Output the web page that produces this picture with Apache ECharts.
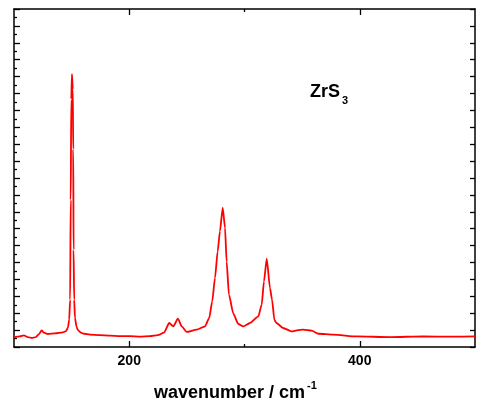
<!DOCTYPE html>
<html>
<head>
<meta charset="utf-8">
<script src="https://cdn.jsdelivr.net/npm/echarts@6/dist/echarts.min.js"></script>
<style>
html,body{margin:0;padding:0;background:#fff;}
#chart{width:480px;height:407px;}
</style>
</head>
<body>
<div id="chart"></div>
<script>
// Raman spectrum ZrS3
var wavenumber = [100,105,108.6,112,115.5,119,121.6,124,126,129.4,135.5,142.4,145.1,146.8,147.9,148.7,149.2,149.7,150.3,151.0,151.4,151.7,152.2,152.9,154.2,155.5,158.1,160.7,165.9,174.6,183.2,191.9,200.6,209.3,218.0,224.9,230.1,234.7,238.2,242.2,245.7,249.8,258.5,265.7,269.4,272.0,274.4,276.7,278.7,281.1,283.1,284.5,286.5,290.3,294.6,298.9,304.8,312.0,314.9,316.9,319.3,322.1,323.9,325.9,327.7,333.5,340.8,346.4,351.0,358.3,364.1,377.1,397.4,426.3,455.2,478.6,500];
var intensity = [1.14,1.25,1.37,1.18,1.07,1.18,1.51,1.96,1.69,1.54,1.61,1.73,1.87,2.28,3.23,5.6,17.4,29.3,32.3,30.5,23.4,11.5,5.6,3.47,2.4,1.99,1.69,1.57,1.46,1.40,1.34,1.28,1.28,1.22,1.28,1.40,1.69,2.84,2.44,3.35,2.40,1.78,2.05,2.44,3.43,5.40,8.17,11.3,13.7,16.5,14.1,10.1,6.19,3.94,2.72,2.44,2.84,3.62,5.0,7.76,10.47,6.98,5.6,3.23,2.84,2.25,1.85,1.99,2.05,1.93,1.57,1.46,1.25,1.18,1.25,1.22,1.25];
var majorTicks = [200,400];
var minorTicks = [300];
var sampleName = 'ZrS';
var sampleSub = '3';
var axisTitle = 'wavenumber / cm';
var axisTitleSup = '-1';

var points = [];
for(var i=0;i<wavenumber.length;i++){
    points.push([wavenumber[i],intensity[i]]);
}

var font = 'Liberation Sans, Arial, sans-serif';
var lineStyle = {color:'#000',width:1.5};

function xAx(pos,ticks,len,showLine,labels){
    return {
        type:'value', position:pos, min:100, max:500, interval:100,
        axisLine:{show:showLine,onZero:false,lineStyle:lineStyle},
        axisTick:{show:true,inside:true,length:len,customValues:ticks,lineStyle:{color:'#000',width:1.3}},
        axisLabel:labels ? {show:true,customValues:ticks,margin:7,color:'#000',fontSize:14,fontWeight:'bold',fontFamily:font} : {show:false},
        splitLine:{show:false}
    };
}

var myChart = echarts.init(document.getElementById('chart'));
var option = {
    animation:false,
    backgroundColor:'#fff',
    grid:{left:14,right:5,top:9,bottom:60,containLabel:false},
    xAxis:[
        xAx('bottom',majorTicks,6,true,true),
        xAx('bottom',minorTicks,3,false,false),
        xAx('top',majorTicks,6,true,false),
        xAx('top',minorTicks,3,false,false)
    ],
    yAxis:[{
        type:'value', position:'left', min:0, max:40, interval:2,
        axisLine:{show:true,onZero:false,lineStyle:lineStyle},
        axisTick:{show:true,inside:true,length:6,lineStyle:{color:'#000',width:1.3}},
        minorTick:{show:true,splitNumber:2,length:3,lineStyle:{color:'#000',width:1.3}},
        axisLabel:{show:false},
        splitLine:{show:false}
    },{
        type:'value', position:'right', min:0, max:40, interval:2,
        axisLine:{show:true,onZero:false,lineStyle:lineStyle},
        axisTick:{show:true,inside:true,length:5,lineStyle:{color:'#000',width:1.3}},
        axisLabel:{show:false},
        splitLine:{show:false}
    }],
    series:[{
        type:'line',
        data:points,
        showSymbol:false,
        symbol:'none',
        smooth:0.2,
        smoothMonotone:'x',
        clip:true,
        lineStyle:{color:'#ff0000',width:1.8}
    }],
    graphic:[
        {type:'text',left:310,top:83,style:{text:sampleName,fill:'#000',font:'bold 18px '+font}},
        {type:'text',left:342,top:95,style:{text:sampleSub,fill:'#000',font:'bold 11px '+font}},
        {type:'text',left:154,top:384,style:{text:axisTitle,fill:'#000',font:'bold 18px '+font}},
        {type:'text',left:307,top:380,style:{text:axisTitleSup,fill:'#000',font:'bold 11px '+font}}
    ]
};
myChart.setOption(option);
</script>
</body>
</html>
